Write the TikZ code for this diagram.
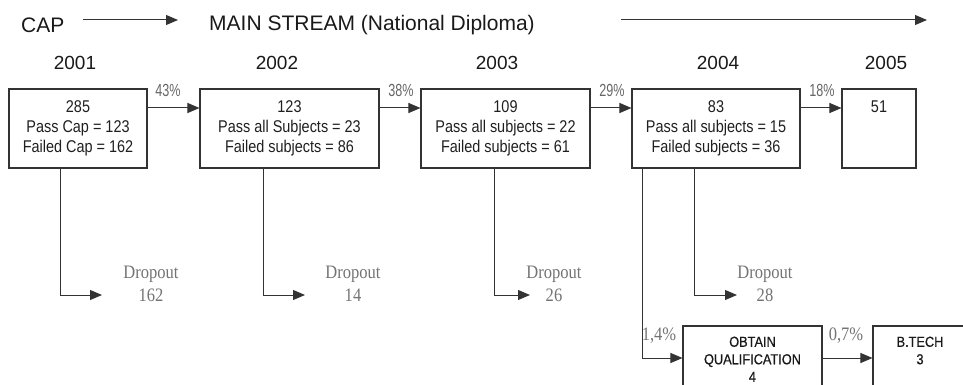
\documentclass[tikz,border=0pt]{standalone}
\usepackage{fontspec}
\setmainfont{Liberation Sans}
\newfontfamily\narrowsans[FakeStretch=0.85]{Liberation Sans}
\newfontfamily\boldnarrow[FakeStretch=0.88,FakeBold=0.6]{Liberation Sans}
\newfontfamily\pctfont[FakeStretch=0.72]{Liberation Sans}
\newfontfamily\serifn[FakeStretch=0.87]{Liberation Serif}
\usetikzlibrary{arrows.meta}
\begin{document}
\begin{tikzpicture}[x=1pt,y=-1pt,
  box/.style={draw=black!80, line width=1.1pt, inner sep=0pt, align=center,
    font=\narrowsans\fontsize{17}{20}\selectfont, text=black!88},
  arr/.style={draw=black!80, line width=1pt, -{Triangle[length=12pt,width=10pt]}},
  year/.style={font=\fontsize{19}{20}\selectfont, text=black!90},
  head/.style={font=\fontsize{21}{22}\selectfont, text=black!90},
  pct/.style={font=\pctfont\fontsize{17.5}{18}\selectfont, text=black!60},
  drop/.style={font=\serifn\fontsize{19}{23}\selectfont, text=black!55, align=center},
  spct/.style={font=\serifn\fontsize{19}{20}\selectfont, text=black!55},
  small/.style={font=\boldnarrow\fontsize{14.5}{17.5}\selectfont, text=black!90, align=center, inner sep=0pt},
]
\useasboundingbox (0,0) rectangle (963,385);
\clip (0,0) rectangle (963,385);

% heading
\node[head, anchor=west, inner sep=0pt] (cap) at (21,25) {CAP};
\node[head, anchor=west, inner sep=0pt] (main) at (209,25) {MAIN STREAM (National Diploma)};
\coordinate (ca1) at (83,20);
\coordinate (ca2) at (178,20);
\coordinate (ma1) at (621,20);
\coordinate (ma2) at (927,20);
\draw[arr] (ca1) -- (ca2);
\draw[arr] (ma1) -- (ma2);

% years
\node[year] (y1) at (75,63) {2001};
\node[year] (y2) at (277,63) {2002};
\node[year] (y3) at (497,63) {2003};
\node[year] (y4) at (718,63) {2004};
\node[year] (y5) at (886,63) {2005};

% boxes
\node[box, minimum width=138pt, minimum height=79pt] (b1) at (78,128.5)
  {285\\Pass Cap = 123\\Failed Cap = 162};
\node[box, minimum width=179pt, minimum height=79pt] (b2) at (289.5,128.5)
  {123\\Pass all Subjects = 23\\Failed subjects = 86};
\node[box, minimum width=169pt, minimum height=79pt] (b3) at (505.5,128.5)
  {109\\Pass all subjects = 22\\Failed subjects = 61};
\node[box, minimum width=168pt, minimum height=79pt] (b4) at (716,128.5)
  {83\\Pass all subjects = 15\\Failed subjects = 36};
\node[box, minimum width=74pt, minimum height=79pt,
  label={[anchor=north, inner sep=0pt, yshift=-12pt, font=\narrowsans\fontsize{17}{20}\selectfont, text=black!88]north:51}] (b5) at (879,128.5) {};

% main arrows
\coordinate (row) at (0,108);
\draw[arr] (b1.east |- row) -- (b2.west |- row);
\draw[arr] (b2.east |- row) -- (b3.west |- row);
\draw[arr] (b3.east |- row) -- (b4.west |- row);
\draw[arr] (b4.east |- row) -- (b5.west |- row);
\node[pct] (p1) at (168,90) {43\%};
\node[pct] (p2) at (401,90) {38\%};
\node[pct] (p3) at (612,90) {29\%};
\node[pct] (p4) at (822,90) {18\%};

% dropouts
\coordinate (d1) at (102,295);
\coordinate (d2) at (305,295);
\coordinate (d3) at (530,295);
\coordinate (d4) at (737,295);
\draw[arr] ([xshift=-18pt]b1.south) |- (d1);
\draw[arr] ([xshift=-26.5pt]b2.south) |- (d2);
\draw[arr] ([xshift=-11.5pt]b3.south) |- (d3);
\draw[arr] ([xshift=-22pt]b4.south) |- (d4);
\node[drop] (o1) at (151,284) {Dropout\\162};
\node[drop] (o2) at (353,284) {Dropout\\14};
\node[drop] (o3) at (554,284) {Dropout\\26};
\node[drop] (o4) at (765,284) {Dropout\\28};

% qualification branch
\node[box, minimum width=139pt, minimum height=80pt,
  label={[small, anchor=north, yshift=-11pt]north:OBTAIN\\QUALIFICATION\\4}] (ob) at (752.5,366) {};
\node[box, minimum width=94pt, minimum height=80pt,
  label={[small, anchor=north, yshift=-11pt]north:B.TECH\\3}] (bt) at (920,366) {};
\coordinate (rb) at (0,358);
\draw[arr] ([xshift=-74pt]b4.south) |- (ob.west |- rb);
\draw[arr] (ob.east |- rb) -- (bt.west |- rb);
\node[spct] (q1) at (659,336) {1,4\%};
\node[spct] (q2) at (846,336) {0,7\%};
\end{tikzpicture}
\end{document}
